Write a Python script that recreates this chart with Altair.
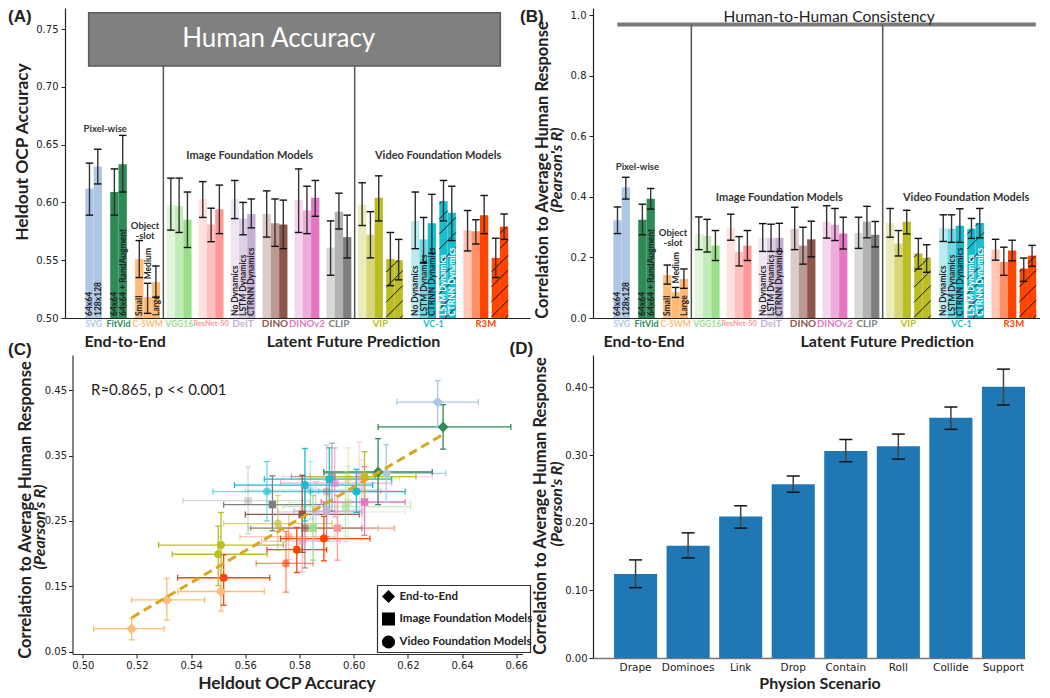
import math
import altair as alt
import pandas as pd

# ------------------------------------------------------------------ data
models = ["SVG", "FitVid", "C-SWM", "VGG16", "ResNet-50", "DeiT",
          "DINO", "DINOv2", "CLIP", "VIP", "VC-1", "R3M"]
model_family = (["End-to-End"] * 3 + ["Image Foundation Models"] * 6
                + ["Video Foundation Models"] * 3)
model_colors = ["#aec7e8", "#2e8b57", "#ffbb78", "#98df8a", "#ff9896", "#c5b0d5",
                "#8c564b", "#e377c2", "#7f7f7f", "#bcbd22", "#17becf", "#ff4500"]

dyn3 = ["No Dynamics", "LSTM Dynamics", "CTRNN Dynamics"]
dyn5 = dyn3 + ["LSTM Dynamics", "CTRNN Dynamics"]
variant_names = [["64x64", "128x128"], ["64x64", "64x64 + RandAugment"],
                 ["Small", "Medium", "Large"],
                 dyn3, dyn3, dyn3, dyn3, dyn3, dyn3, dyn5, dyn5, dyn5]
finetuned_variant = [False, False, False, True, True]   # hatched bars of video models
labelled_models = ["SVG", "FitVid", "C-SWM", "DeiT", "VC-1"]

acc_mean = [[0.612, 0.631], [0.609, 0.633], [0.551, 0.518, 0.531],
            [0.598, 0.597, 0.585], [0.603, 0.581, 0.594], [0.603, 0.586, 0.590],
            [0.590, 0.582, 0.581], [0.602, 0.593, 0.604], [0.561, 0.592, 0.570],
            [0.598, 0.572, 0.604, 0.551, 0.550], [0.584, 0.568, 0.582, 0.601, 0.591],
            [0.576, 0.575, 0.589, 0.552, 0.579]]
acc_lo = [[0.589, 0.616], [0.589, 0.609], [0.535, 0.504, 0.518],
          [0.576, 0.574, 0.561], [0.587, 0.566, 0.573], [0.586, 0.572, 0.578],
          [0.570, 0.562, 0.560], [0.574, 0.573, 0.588], [0.537, 0.577, 0.552],
          [0.580, 0.552, 0.584, 0.528, 0.533], [0.560, 0.548, 0.556, 0.584, 0.567],
          [0.558, 0.564, 0.573, 0.535, 0.568]]
acc_hi = [[0.634, 0.646], [0.629, 0.658], [0.567, 0.530, 0.545],
          [0.621, 0.621, 0.609], [0.618, 0.595, 0.615], [0.619, 0.600, 0.603],
          [0.610, 0.603, 0.602], [0.629, 0.614, 0.619], [0.584, 0.608, 0.589],
          [0.617, 0.592, 0.623, 0.574, 0.568], [0.609, 0.587, 0.607, 0.619, 0.614],
          [0.593, 0.585, 0.606, 0.569, 0.590]]
corr_mean = [[0.323, 0.432], [0.325, 0.394], [0.142, 0.085, 0.129],
             [0.278, 0.272, 0.239], [0.297, 0.219, 0.239], [0.264, 0.264, 0.265],
             [0.295, 0.239, 0.260], [0.318, 0.308, 0.279], [0.281, 0.318, 0.275],
             [0.315, 0.246, 0.318, 0.213, 0.199], [0.297, 0.295, 0.305, 0.295, 0.314],
             [0.226, 0.185, 0.223, 0.163, 0.206]]
corr_lo = [[0.279, 0.393], [0.275, 0.360], [0.112, 0.068, 0.098],
           [0.226, 0.218, 0.190], [0.257, 0.172, 0.190], [0.220, 0.220, 0.220],
           [0.226, 0.178, 0.202], [0.264, 0.256, 0.228], [0.230, 0.265, 0.235],
           [0.267, 0.205, 0.278, 0.162, 0.151], [0.253, 0.250, 0.250, 0.263, 0.265],
           [0.191, 0.141, 0.189, 0.121, 0.171]]
corr_hi = [[0.367, 0.465], [0.376, 0.428], [0.175, 0.101, 0.162],
           [0.334, 0.326, 0.289], [0.343, 0.269, 0.289], [0.312, 0.310, 0.313],
           [0.366, 0.300, 0.320], [0.371, 0.362, 0.333], [0.333, 0.369, 0.319],
           [0.362, 0.289, 0.356, 0.263, 0.242], [0.341, 0.341, 0.361, 0.329, 0.362],
           [0.260, 0.234, 0.257, 0.198, 0.240]]

scenarios = ["Drape", "Dominoes", "Link", "Drop", "Contain", "Roll", "Collide", "Support"]
scen_mean = [0.124, 0.166, 0.209, 0.257, 0.306, 0.313, 0.355, 0.401]
scen_lo = [0.104, 0.148, 0.192, 0.245, 0.290, 0.294, 0.338, 0.374]
scen_hi = [0.145, 0.185, 0.225, 0.269, 0.323, 0.331, 0.371, 0.427]

human_accuracy_band = [0.718, 0.764]
human_consistency = 0.97
corr_text = "R\u22480.865, p << 0.001"
legend_items = ["End-to-End", "Image Foundation Models", "Video Foundation Models"]
legend_shapes = ["diamond", "square", "circle"]

# ------------------------------------------------------------------ layout / style
FONT = "Lato"
TICKFONT = "DejaVu Sans"
PXU = 8.3          # px per bar slot
XL = -2.45         # left end of bar-panel x domain (slot units)
WA, HA = 465, 310
WB, HB = 447, 310
WC, HC = 450, 299
WD, HD = 432, 303
group_gap = [0, 1.0, 1.0, 0.8, 0.85, 0.85, 0.85, 0.85, 0.85, 0.8, 1.0, 0.9]
sub_gap = 0.4
label_size = {"SVG": 8.5, "FitVid": 9, "C-SWM": 8.5, "VGG16": 8.5, "ResNet-50": 7.5,
              "DeiT": 10, "DINO": 10, "DINOv2": 9.6, "CLIP": 10, "VIP": 9.5,
              "VC-1": 9, "R3M": 9.5}
alpha3 = [0.3, 0.6, 1.0, 1.0, 1.0]
HATCH_S = 15.0

rows, groups = [], []
pos = 0.0
for gi, m in enumerate(models):
    pos += group_gap[gi]
    start = pos
    names = variant_names[gi]
    for vi, nm in enumerate(names):
        hatched = len(names) == 5 and finetuned_variant[vi]
        if len(names) == 5 and vi == 3:
            pos += sub_gap
        a = 1.0 if model_family[gi] == "End-to-End" else alpha3[vi]
        rows.append(dict(model=m, family=model_family[gi], variant=nm,
                         x0=pos, x1=pos + 1, xc=pos + 0.5,
                         acc=acc_mean[gi][vi], acc_lo=acc_lo[gi][vi], acc_hi=acc_hi[gi][vi],
                         corr=corr_mean[gi][vi], corr_lo=corr_lo[gi][vi], corr_hi=corr_hi[gi][vi],
                         color=model_colors[gi], alpha=a, hatched=hatched,
                         show=m in labelled_models,
                         tcolor="white" if hatched else "#222"))
        pos += 1
    groups.append(dict(model=m, start=start, end=pos, xc=(start + pos) / 2,
                       color=model_colors[gi], fs=label_size[m]))
bars = pd.DataFrame(rows)
gdf = pd.DataFrame(groups)
sep_x = [(groups[2]["end"] + groups[3]["start"]) / 2, (groups[8]["end"] + groups[9]["start"]) / 2]


def txt_px(text, x, y, size, weight="normal", font=FONT, angle=0, align="center",
           baseline="middle", color="#222", style="normal"):
    return alt.Chart(pd.DataFrame({"t": [text]})).mark_text(
        fontSize=size, fontWeight=weight, font=font, angle=angle, align=align,
        baseline=baseline, color=color, fontStyle=style
    ).encode(x=alt.value(x), y=alt.value(y), text="t:N")


def hatch_df(vkey, base, ky):
    segs = []
    for _, r in bars[bars.hatched].iterrows():
        a, b = r.x0 * PXU, r.x1 * PXU
        H = (r[vkey] - base) * ky
        for k in range(int(math.floor(-b / HATCH_S)) - 1, int(math.ceil((H - a) / HATCH_S)) + 2):
            c = k * HATCH_S
            xe, xx = max(a, -c), min(b, H - c)
            if xx - xe > 0.5:
                segs.append(dict(hx=xe / PXU, hy=base + (xe + c) / ky,
                                 hx2=xx / PXU, hy2=base + (xx + c) / ky))
    return pd.DataFrame(segs)


def bar_panel(vkey, lokey, hikey, w, h, ydom, yvals, yfmt, base, cfg):
    xs = alt.Scale(domain=[XL, XL + w / PXU], nice=False, zero=False)
    ys = alt.Scale(domain=ydom, nice=False, zero=False)
    axX = alt.Axis(ticks=False, labels=False, title=None, domainColor="#222", domainWidth=1.2)
    axY = alt.Axis(values=yvals, format=yfmt, title=None, tickSize=4, labelPadding=3,
                   domainColor="#222", domainWidth=1.2)
    ky = h / (ydom[1] - ydom[0])
    X = lambda f: alt.X(f + ":Q", scale=xs, axis=axX)
    Y = lambda f: alt.Y(f + ":Q", scale=ys, axis=axY)
    df = bars.assign(base=base)
    layers = [alt.Chart(df).mark_bar(strokeWidth=0).encode(
        x=X("x0"), x2=alt.X2("x1"), y=Y(vkey), y2=alt.Y2("base"),
        color=alt.Color("color:N", scale=None),
        opacity=alt.Opacity("alpha:Q", scale=None))]
    layers += cfg["top"](X, Y)
    sep = pd.DataFrame({"x": sep_x, "top": [cfg["sep_top"]] * 2, "base": [base] * 2})
    layers.append(alt.Chart(sep).mark_rule(color="#555", strokeWidth=1.5).encode(
        x=X("x"), y=Y("top"), y2=alt.Y2("base")))
    layers.append(alt.Chart(hatch_df(vkey, base, ky)).mark_rule(color="#111", strokeWidth=1).encode(
        x=X("hx"), y=Y("hy"), x2=alt.X2("hx2"), y2=alt.Y2("hy2")))
    layers.append(alt.Chart(df).mark_rule(color="#333", strokeWidth=1.4).encode(
        x=X("xc"), y=Y(lokey), y2=alt.Y2(hikey)))
    caps = pd.concat([df[["xc", lokey]].rename(columns={lokey: "cv"}),
                      df[["xc", hikey]].rename(columns={hikey: "cv"})])
    layers.append(alt.Chart(caps).mark_tick(orient="horizontal", size=7.5, thickness=1.4,
                                            color="#111", opacity=1).encode(x=X("xc"), y=Y("cv")))
    # in-bar variant labels
    lab = df[df.show].copy()
    fits = [len(v) * 4.6 + 4 < (val - base) * ky for v, val in zip(lab.variant, lab[vkey])]
    lab["ty"] = [base + 2 / ky if f else hi + 4 / ky for f, hi in zip(fits, lab[hikey])]
    layers.append(alt.Chart(lab).mark_text(angle=270, align="left", baseline="middle",
                                           fontSize=8.5, font=FONT, fontWeight="bold").encode(
        x=X("xc"), y=Y("ty"), text="variant:N", color=alt.Color("tcolor:N", scale=None)))
    # annotations in data coordinates
    ann = pd.DataFrame(cfg["ann"], columns=["t", "x", "y", "fs"])
    layers.append(alt.Chart(ann).mark_text(font=FONT, fontWeight="bold", color="#333",
                                           baseline="middle").encode(
        x=X("x"), y=Y("y"), text="t:N", size=alt.Size("fs:Q", scale=None)))
    # model names under the axis
    layers.append(alt.Chart(gdf).mark_text(font=FONT, fontWeight="bold", baseline="middle").encode(
        x=X("xc"), y=alt.value(h + 6), text="model:N",
        color=alt.Color("color:N", scale=None), size=alt.Size("fs:Q", scale=None)))
    sec = pd.DataFrame({"t": ["End-to-End", "Latent Future Prediction"], "x": cfg["sec_x"]})
    layers.append(alt.Chart(sec).mark_text(font=FONT, fontWeight="bold", fontSize=16,
                                           color="#222", baseline="middle").encode(
        x=X("x"), y=alt.value(h + 24), text="t:N"))
    layers += cfg["px"]
    return alt.layer(*layers).properties(width=w, height=h)


# ---------------- panel A
def top_A(X, Y):
    box = pd.DataFrame({"lo": [human_accuracy_band[0]], "hi": [human_accuracy_band[1]],
                        "x0": [0.4], "x1": [50.0]})
    t = pd.DataFrame({"t": ["Human Accuracy"], "x": [23.3], "y": [sum(human_accuracy_band) / 2]})
    return [alt.Chart(box).mark_rect(fill="#808080", stroke="#5a5a5a", strokeWidth=1.5).encode(
                x=X("x0"), x2=alt.X2("x1"), y=Y("lo"), y2=alt.Y2("hi")),
            alt.Chart(t).mark_text(font=FONT, fontSize=26, color="white").encode(
                x=X("x"), y=Y("y"), text="t:N")]


cfgA = dict(
    top=top_A, sep_top=human_accuracy_band[0],
    ann=[["Pixel-wise", 2.4, 0.6638, 9.5], ["Object", 7.2, 0.5798, 9.5], ["-slot", 7.2, 0.5712, 9.5],
         ["Image Foundation Models", 19.8, 0.6405, 11], ["Video Foundation Models", 42.5, 0.6405, 11]],
    sec_x=[4.8, 32.3],
    px=[txt_px("(A)", -57, 9, 17, "bold", "Liberation Sans", align="left"),
        txt_px("Heldout OCP Accuracy", -42, 144, 17.4, "bold", angle=270)])
panelA = bar_panel("acc", "acc_lo", "acc_hi", WA, HA, [0.5, 0.5 + HA / 1155.8],
                   [0.50, 0.55, 0.60, 0.65, 0.70, 0.75], ".2f", 0.5, cfgA)


# ---------------- panel B
def top_B(X, Y):
    ln = pd.DataFrame({"x0": [0.48], "x1": [50.9], "y": [human_consistency]})
    t = pd.DataFrame({"t": ["Human-to-Human Consistency"], "x": [26.0]})
    return [alt.Chart(ln).mark_rule(color="#7a7a7a", strokeWidth=4).encode(
                x=X("x0"), x2=alt.X2("x1"), y=Y("y")),
            alt.Chart(t).mark_text(font=FONT, fontSize=15.5, color="#222", baseline="top").encode(
                x=X("x"), y=alt.value(2), text="t:N")]


cfgB = dict(
    top=top_B, sep_top=human_consistency,
    ann=[["Pixel-wise", 2.9, 0.498, 9.5], ["Object", 7.2, 0.281, 9.5], ["-slot", 7.2, 0.249, 9.5],
         ["Image Foundation Models", 20.0, 0.395, 11], ["Video Foundation Models", 42.5, 0.395, 11]],
    sec_x=[3.7, 33.0],
    px=[txt_px("(B)", -73, 9, 17, "bold", "Liberation Sans", align="left"),
        txt_px("Correlation to Average Human Response", -50, 162, 16.5, "bold", angle=270),
        txt_px("(Pearson's R)", -36.5, 162, 16, "bold", angle=270, style="italic")])
panelB = bar_panel("corr", "corr_lo", "corr_hi", WB, HB, [0.0, HB / 302.6],
                   [0.0, 0.2, 0.4, 0.6, 0.8, 1.0], ".1f", 0.0, cfgB)

# ---------------- panel C
sc = bars.copy()
sc["msize"] = sc.family.map({"End-to-End": 120, "Image Foundation Models": 56,
                             "Video Foundation Models": 64})
xsC = alt.Scale(domain=[0.4962, 0.4962 + WC / 2709], nice=False, zero=False)
ysC = alt.Scale(domain=[0.04625, 0.04625 + HC / 653], nice=False, zero=False)
axXC = alt.Axis(values=[0.50, 0.52, 0.54, 0.56, 0.58, 0.60, 0.62, 0.64, 0.66], format=".2f",
                title=None, tickSize=4, domainColor="#333", domainWidth=1.2)
axYC = alt.Axis(values=[0.05, 0.15, 0.25, 0.35, 0.45], format=".2f", title=None, tickSize=4,
                domainColor="#333", domainWidth=1.2)
XC = lambda f: alt.X(f + ":Q", scale=xsC, axis=axXC)
YC = lambda f: alt.Y(f + ":Q", scale=ysC, axis=axYC)
col = dict(color=alt.Color("color:N", scale=None), opacity=alt.Opacity("alpha:Q", scale=None))
xcaps = pd.concat([sc.assign(cx=sc.acc_lo), sc.assign(cx=sc.acc_hi)])
ycaps = pd.concat([sc.assign(cy=sc.corr_lo), sc.assign(cy=sc.corr_hi)])
leg = pd.DataFrame({"t": legend_items, "shape": legend_shapes, "ly": [241.5, 264, 287]})
panelC = alt.layer(
    alt.Chart(sc).mark_rule(strokeWidth=1.3).encode(x=XC("acc_lo"), x2=alt.X2("acc_hi"), y=YC("corr"), **col),
    alt.Chart(sc).mark_rule(strokeWidth=1.3).encode(x=XC("acc"), y=YC("corr_lo"), y2=alt.Y2("corr_hi"), **col),
    alt.Chart(xcaps).mark_tick(orient="vertical", size=6, thickness=1.3).encode(x=XC("cx"), y=YC("corr"), **col),
    alt.Chart(ycaps).mark_tick(orient="horizontal", size=6, thickness=1.3).encode(x=XC("acc"), y=YC("cy"), **col),
    alt.Chart(sc).mark_point(filled=True, strokeWidth=0).encode(
        x=XC("acc"), y=YC("corr"),
        shape=alt.Shape("family:N", scale=alt.Scale(domain=legend_items, range=legend_shapes), legend=None),
        size=alt.Size("msize:Q", scale=None), **col),
    alt.Chart(sc).transform_regression("acc", "corr").mark_line(
        color="#DAA520", strokeWidth=3, strokeDash=[9, 5]).encode(x=XC("acc"), y=YC("corr")),
    txt_px(corr_text, 18.5, 35, 15, align="left"),
    # legend box
    alt.Chart(pd.DataFrame({"a": [0]})).mark_rect(fill="white", stroke="#333", strokeWidth=1.2).encode(
        x=alt.value(305), x2=alt.value(458), y=alt.value(230.5), y2=alt.value(297.5)),
    alt.Chart(leg).mark_point(filled=True, color="black", opacity=1, size=170).encode(
        x=alt.value(316), y=alt.Y("ly:Q", scale=None, axis=None),
        shape=alt.Shape("shape:N", scale=None)),
    alt.Chart(leg).mark_text(font=FONT, fontWeight="bold", fontSize=11.5, color="#222",
                             align="left", baseline="middle").encode(
        x=alt.value(327), y=alt.Y("ly:Q", scale=None, axis=None), text="t:N"),
    txt_px("(C)", -64.5, -5, 17, "bold", "Liberation Sans", align="left"),
    txt_px("Correlation to Average Human Response", -46.5, 155, 16.5, "bold", angle=270),
    txt_px("(Pearson's R)", -33, 172, 16, "bold", angle=270, style="italic"),
    txt_px("Heldout OCP Accuracy", 214.5, 329, 17.4, "bold"),
).properties(width=WC, height=HC)

# ---------------- panel D
ddf = pd.DataFrame({"scenario": scenarios, "v": scen_mean, "lo": scen_lo, "hi": scen_hi})
xsD = alt.Scale(domain=scenarios, paddingInner=0.18, paddingOuter=0.2, align=1)
ysD = alt.Scale(domain=[0, HD / 676.5], nice=False, zero=False)
axXD = alt.Axis(title=None, ticks=False, labelAngle=0, labelFontSize=10.5, labelPadding=4,
                domainColor="#777", domainWidth=1.5)
axYD = alt.Axis(values=[0, 0.1, 0.2, 0.3, 0.4], format=".2f", title=None, tickSize=4,
                domainColor="#222", domainWidth=1.2)
XD = lambda f: alt.X(f + ":N", sort=scenarios, scale=xsD, axis=axXD)
YD = lambda f: alt.Y(f + ":Q", scale=ysD, axis=axYD)
dcaps = pd.concat([ddf.assign(cv=ddf.lo), ddf.assign(cv=ddf.hi)])
panelD = alt.layer(
    alt.Chart(ddf).mark_bar(color="#1f77b4").encode(x=XD("scenario"), y=YD("v")),
    alt.Chart(ddf).mark_rule(color="#444", strokeWidth=1.5).encode(
        x=XD("scenario"), y=YD("lo"), y2=alt.Y2("hi")),
    alt.Chart(dcaps).mark_tick(orient="horizontal", size=13, thickness=1.5, color="#111", opacity=1).encode(
        x=XD("scenario"), y=YD("cv")),
    txt_px("(D)", -83.5, -6, 17, "bold", "Liberation Sans", align="left"),
    txt_px("Correlation to Average Human Response", -52.5, 151, 16.5, "bold", angle=270),
    txt_px("(Pearson's R)", -36.5, 149, 16, "bold", angle=270, style="italic"),
    txt_px("Physion Scenario", 227, 329, 16, "bold"),
).properties(width=WD, height=HD)

chart = alt.concat(panelA, panelB, panelC, panelD, columns=2,
                   spacing={"row": 37, "column": 63}, bounds="flush", center=True
                   ).properties(padding=0).configure_view(stroke=None).configure_axis(
    labelFont=TICKFONT, labelFontSize=10, labelColor="#222", tickColor="#222", grid=False)

chart.save("out.html", embed_options={"renderer": "svg", "actions": False})
